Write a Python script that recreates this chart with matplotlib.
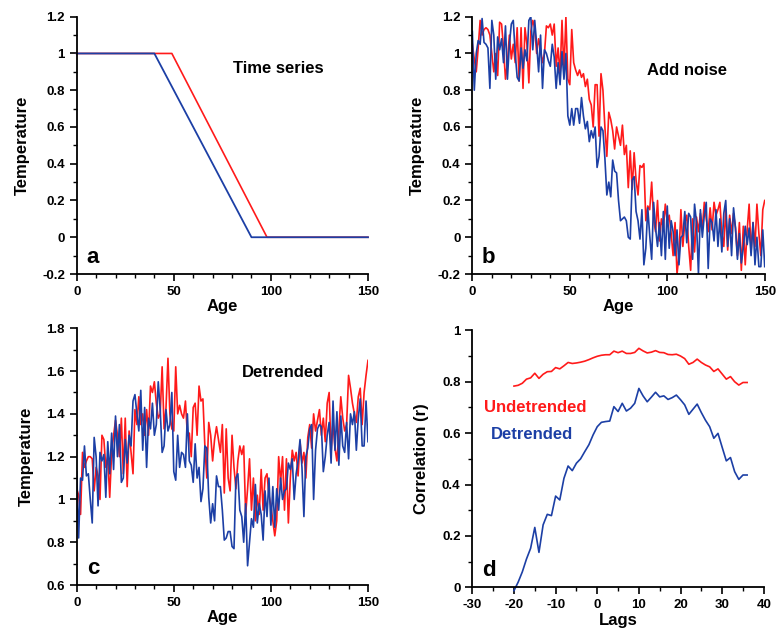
import numpy as np
import matplotlib
matplotlib.use('Agg')
import matplotlib.pyplot as plt
from matplotlib.ticker import MultipleLocator

plt.rcParams['font.family'] = ['Liberation Sans', 'DejaVu Sans']
plt.rcParams['font.weight'] = 'bold'

RED = '#ff1a1a'
BLUE = '#1c3fa5'

# a) idealised time series (breakpoints)
age_a = [0, 40, 90, 150]
blue_a = [1, 1, 0, 0]
age_a_red = [0, 49, 98, 150]
red_a = [1, 1, 0, 0]

# b) with noise, ages 0..150
blue_b = [1.12, 0.80, 1.00, 1.07, 1.05, 1.19, 1.06, 1.05, 1.03, 0.81, 1.18,
          1.10, 0.86, 1.09, 1.02, 1.08, 0.95, 1.15, 0.86, 1.05, 1.16,
          1.18, 1.00, 0.87, 0.85, 1.03, 0.92, 1.02, 0.96, 1.18, 1.20,
          1.02, 1.18, 1.05, 0.90, 1.10, 0.81, 1.02, 1.00, 0.96, 0.93,
          1.05, 0.98, 0.81, 0.95, 0.83, 1.01, 0.86, 1.00, 0.66, 0.61,
          0.70, 0.61, 0.70, 0.70, 0.62, 0.76, 0.66, 0.59, 0.63, 0.52,
          0.58, 0.54, 0.60, 0.38, 0.44, 0.60, 0.58, 0.43, 0.23, 0.30,
          0.22, 0.42, 0.36, 0.35, 0.20, 0.09, 0.10, 0.11, 0.09, 0.00,
          -0.01, 0.31, 0.33, 0.14, 0.09, -0.01, 0.15, -0.15, -0.06, 0.16,
          0.01, -0.12, 0.19, 0.05, -0.05, 0.08, -0.10, 0.14, -0.12, 0.17,
          -0.06, 0.09, 0.03, -0.10, 0.04, -0.15, 0.00, 0.01, 0.14, -0.03,
          0.13, 0.11, -0.12, 0.18, 0.08, -0.20, 0.15, 0.00, 0.12, 0.19,
          -0.17, 0.10, 0.08, -0.02, 0.15, -0.05, 0.10, -0.08, 0.13, 0.20,
          -0.05, 0.10, -0.10, 0.16, 0.05, -0.12, 0.02, -0.14, -0.06, 0.06,
          -0.04, 0.05, -0.10, 0.08, -0.15, 0.00, -0.16, -0.16, 0.04, -0.16]
red_b = [1.05, 0.97, 0.90, 1.03, 1.18, 1.10, 1.13, 1.14, 1.13, 1.10, 1.00,
         0.90, 1.00, 0.88, 1.17, 1.16, 1.03, 0.86, 0.95, 1.10, 0.97,
         1.05, 0.95, 1.14, 0.85, 1.14, 0.81, 1.14, 1.05, 0.84, 1.12,
         1.18, 1.14, 1.00, 1.08, 1.02, 0.95, 1.00, 1.15, 1.14, 1.16,
         1.10, 1.16, 0.93, 1.03, 0.88, 1.18, 0.90, 1.20, 0.86, 0.83,
         1.13, 0.95, 0.91, 0.88, 0.91, 0.87, 0.89, 0.82, 0.86, 0.75,
         0.72, 0.60, 0.83, 0.83, 0.55, 0.89, 0.80, 0.60, 0.44, 0.68,
         0.64, 0.58, 0.48, 0.60, 0.55, 0.50, 0.61, 0.45, 0.50, 0.27,
         0.47, 0.26, 0.46, 0.31, 0.23, 0.39, 0.38, 0.40, 0.09, 0.17,
         0.15, 0.30, 0.10, 0.03, 0.20, -0.02, 0.10, 0.05, 0.18, 0.08,
         0.12, 0.02, -0.10, 0.08, -0.20, -0.10, 0.15, -0.05, 0.08, 0.12,
         -0.05, -0.18, 0.10, -0.08, 0.11, 0.03, 0.13, 0.05, 0.19, 0.10,
         0.03, 0.16, 0.04, 0.19, 0.12, 0.15, 0.19, 0.02, -0.05, 0.15,
         -0.07, 0.12, 0.02, 0.13, 0.05, -0.10, 0.08, -0.18, 0.06, -0.15,
         0.04, 0.18, -0.08, 0.08, -0.05, 0.18, 0.02, -0.10, 0.15, 0.20]

# c) detrended, ages 0..150
blue_c = [1.13, 0.82, 1.10, 1.09, 1.25, 1.11, 1.12, 1.00, 0.89, 1.29, 1.20,
          0.97, 1.22, 1.18, 1.21, 1.01, 1.27, 1.12, 1.31, 1.14, 1.39,
          1.20, 1.35, 1.08, 1.10, 1.28, 1.17, 1.30, 1.25, 1.46, 1.49,
          1.40, 1.32, 1.51, 1.23, 1.43, 1.15, 1.38, 1.33, 1.45, 1.30,
          1.35, 1.55, 1.42, 1.22, 1.25, 1.42, 1.32, 1.35, 1.50, 1.13,
          1.09, 1.30, 1.15, 1.22, 1.21, 1.15, 1.40, 1.18, 1.16, 1.08,
          1.26, 1.10, 1.15, 0.99, 1.05, 1.25, 1.24, 1.01, 0.89, 0.98,
          0.90, 1.11, 1.06, 1.06, 0.95, 0.81, 0.82, 0.85, 0.85, 0.78,
          0.77, 1.10, 1.12, 0.95, 0.92, 0.80, 0.98, 0.69, 0.80, 0.91,
          0.87, 1.07, 0.89, 0.98, 0.93, 0.81, 1.04, 0.92, 1.10, 0.88,
          1.06, 0.87, 1.05, 0.95, 1.10, 1.00, 1.04, 1.05, 1.17, 1.14,
          1.19, 1.00, 1.12, 1.18, 1.28, 1.15, 0.92, 1.20, 1.24, 1.33,
          1.35, 1.00, 1.23, 1.33, 1.35, 1.34, 1.13, 1.20, 1.30, 1.36,
          1.17, 1.46, 1.23, 1.41, 1.16, 1.39, 1.25, 1.22, 1.36, 1.19,
          1.40, 1.35, 1.41, 1.23, 1.38, 1.47, 1.25, 1.25, 1.46, 1.27]
red_c = [1.05, 1.02, 0.93, 1.22, 1.15, 1.18, 1.20, 1.20, 1.19, 1.04, 1.15,
         1.11, 1.00, 1.30, 1.28, 1.15, 1.20, 1.01, 1.22, 1.30, 1.37,
         1.30, 1.20, 1.38, 1.12, 1.38, 1.06, 1.32, 1.22, 1.12, 1.42,
         1.35, 1.48, 1.35, 1.40, 1.30, 1.42, 1.30, 1.53, 1.50, 1.55,
         1.45, 1.38, 1.40, 1.62, 1.33, 1.43, 1.66, 1.40, 1.33, 1.32,
         1.62, 1.40, 1.44, 1.40, 1.38, 1.46, 1.30, 1.31, 1.20, 1.43,
         1.45, 1.30, 1.53, 1.46, 1.47, 1.25, 1.10, 1.36, 1.30, 1.18,
         1.28, 1.34, 1.28, 1.22, 1.35, 1.03, 1.33, 1.10, 1.04, 1.30,
         1.15, 1.05, 1.18, 1.25, 1.21, 1.25, 0.93, 1.05, 1.19, 0.95,
         1.10, 0.90, 1.02, 0.93, 1.14, 0.95, 1.10, 1.12, 1.02, 0.97,
         0.90, 0.83, 0.90, 1.20, 1.08, 1.20, 0.95, 1.19, 0.89, 1.10,
         1.23, 1.18, 1.22, 1.11, 1.27, 1.17, 1.22, 1.10, 1.29, 1.35,
         1.24, 1.40, 1.32, 1.37, 1.42, 1.30, 1.38, 1.27, 1.45, 1.50,
         1.22, 1.36, 1.24, 1.18, 1.32, 1.48, 1.38, 1.32, 1.35, 1.58,
         1.52, 1.45, 1.40, 1.36, 1.48, 1.52, 1.35, 1.50, 1.58, 1.65]

# d) correlation vs lag, lags -20..36
lags = list(range(-20, 37))
r_undetrended = [0.783, 0.786, 0.794, 0.81, 0.815, 0.833, 0.813, 0.829, 0.839, 0.84,
                 0.855, 0.85, 0.862, 0.875, 0.871, 0.873, 0.876, 0.88, 0.886, 0.893,
                 0.899, 0.903, 0.905, 0.905, 0.919, 0.913, 0.919, 0.91, 0.91, 0.914,
                 0.93, 0.92, 0.912, 0.915, 0.921, 0.914, 0.913, 0.906, 0.905, 0.907,
                 0.9, 0.89, 0.868, 0.875, 0.888, 0.875, 0.865, 0.858, 0.84, 0.85,
                 0.83, 0.81, 0.82, 0.80, 0.787, 0.797, 0.797]
r_detrended = [-0.013, 0.02, 0.06, 0.11, 0.152, 0.233, 0.136, 0.243, 0.284, 0.279,
               0.355, 0.34, 0.424, 0.472, 0.454, 0.483, 0.50, 0.528, 0.555, 0.593,
               0.625, 0.642, 0.645, 0.647, 0.703, 0.684, 0.716, 0.686, 0.697, 0.716,
               0.774, 0.745, 0.722, 0.74, 0.759, 0.741, 0.745, 0.731, 0.738, 0.748,
               0.73, 0.71, 0.673, 0.693, 0.713, 0.68, 0.65, 0.625, 0.58, 0.599,
               0.545, 0.492, 0.505, 0.45, 0.42, 0.437, 0.437]

fig = plt.figure(figsize=(7.77, 6.35), dpi=100)
ax_a = fig.add_axes([0.0987, 0.5685, 0.3749, 0.4052])
ax_b = fig.add_axes([0.6079, 0.5685, 0.3763, 0.4052])
ax_c = fig.add_axes([0.0987, 0.0787, 0.3749, 0.4043])
ax_d = fig.add_axes([0.6079, 0.0751, 0.3751, 0.4047])

LABEL_FS = 12
NOTE_FS = 12


def style(ax):
    for s in ['top', 'right']:
        ax.spines[s].set_visible(False)
    for s in ['left', 'bottom']:
        ax.spines[s].set_linewidth(1.3)
    ax.tick_params(which='major', direction='out', length=5, width=1.2, labelsize=9.5)
    ax.tick_params(which='minor', direction='out', length=3, width=1.0)
    for lab in ax.get_xticklabels() + ax.get_yticklabels():
        lab.set_fontweight('bold')


def fmt(v, pos):
    return ('%g' % round(v, 2))


age = np.arange(151)

# panel a
ax_a.plot(age_a_red, red_a, color=RED, lw=1.2, clip_on=False)
ax_a.plot(age_a, blue_a, color=BLUE, lw=1.3, clip_on=False)
ax_a.text(104, 0.92, 'Time series', fontsize=NOTE_FS, fontweight='bold', ha='center', va='center')

# panel b
ax_b.plot(age, red_b, color=RED, lw=1.2)
ax_b.plot(age, blue_b, color=BLUE, lw=1.2)
ax_b.text(110, 0.905, 'Add noise', fontsize=NOTE_FS, fontweight='bold', ha='center', va='center')

for ax, lab in [(ax_a, 'a'), (ax_b, 'b')]:
    ax.set_xlim(0, 150)
    ax.set_ylim(-0.2, 1.2)
    ax.xaxis.set_major_locator(MultipleLocator(50))
    ax.xaxis.set_minor_locator(MultipleLocator(10))
    ax.yaxis.set_major_locator(MultipleLocator(0.2))
    ax.yaxis.set_minor_locator(MultipleLocator(0.1))
    ax.set_xlabel('Age', fontsize=LABEL_FS, fontweight='bold', labelpad=1)
    ax.set_ylabel('Temperature', fontsize=LABEL_FS, fontweight='bold', labelpad=9)
    ax.text(0.056, 0.066, lab, transform=ax.transAxes, fontsize=16, fontweight='bold',
            ha='center', va='center')

# panel c
ax_c.plot(age, red_c, color=RED, lw=1.2)
ax_c.plot(age, blue_c, color=BLUE, lw=1.2)
ax_c.text(106, 1.594, 'Detrended', fontsize=NOTE_FS, fontweight='bold', ha='center', va='center')
ax_c.set_xlim(0, 150)
ax_c.set_ylim(0.6, 1.8)
ax_c.xaxis.set_major_locator(MultipleLocator(50))
ax_c.xaxis.set_minor_locator(MultipleLocator(10))
ax_c.yaxis.set_major_locator(MultipleLocator(0.2))
ax_c.yaxis.set_minor_locator(MultipleLocator(0.1))
ax_c.set_xlabel('Age', fontsize=LABEL_FS, fontweight='bold', labelpad=1)
ax_c.set_ylabel('Temperature', fontsize=LABEL_FS, fontweight='bold', labelpad=9)
ax_c.text(0.056, 0.066, 'c', transform=ax_c.transAxes, fontsize=16, fontweight='bold',
          ha='center', va='center')

# panel d
ax_d.plot(lags, r_undetrended, color=RED, lw=1.2)
ax_d.plot(lags, r_detrended, color=BLUE, lw=1.2, clip_on=False)
ax_d.text(-14.9, 0.70, 'Undetrended', color=RED, fontsize=NOTE_FS, fontweight='bold',
          ha='center', va='center')
ax_d.text(-15.6, 0.593, 'Detrended', color=BLUE, fontsize=NOTE_FS, fontweight='bold',
          ha='center', va='center')
ax_d.set_xlim(-30, 40)
ax_d.set_ylim(0, 1)
ax_d.xaxis.set_major_locator(MultipleLocator(10))
ax_d.xaxis.set_minor_locator(MultipleLocator(5))
ax_d.yaxis.set_major_locator(MultipleLocator(0.2))
ax_d.yaxis.set_minor_locator(MultipleLocator(0.1))
ax_d.set_xlabel('Lags', fontsize=LABEL_FS, fontweight='bold', labelpad=1)
ax_d.set_ylabel('Correlation (r)', fontsize=LABEL_FS, fontweight='bold', labelpad=9)
ax_d.text(0.056, 0.066, 'd', transform=ax_d.transAxes, fontsize=16, fontweight='bold',
          ha='center', va='center')

for ax in [ax_a, ax_b, ax_c, ax_d]:
    ax.xaxis.set_major_formatter(plt.FuncFormatter(fmt))
    ax.yaxis.set_major_formatter(plt.FuncFormatter(fmt))
    style(ax)

fig.savefig('out.png', dpi=100)
